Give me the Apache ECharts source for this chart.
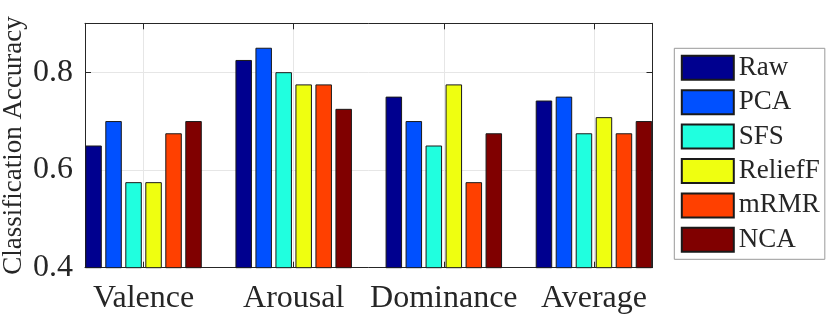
<!DOCTYPE html>
<html>
<head>
<meta charset="utf-8">
<script src="https://cdn.jsdelivr.net/npm/echarts@6/dist/echarts.min.js"></script>
<style>html,body{margin:0;padding:0;background:#fff}#c{width:830px;height:317px}</style>
</head>
<body>
<div id="c"></div>
<script>
const categories = ['Valence', 'Arousal', 'Dominance', 'Average'];
const methods = ['Raw', 'PCA', 'SFS', 'ReliefF', 'mRMR', 'NCA'];
const raw     = [0.650, 0.825, 0.750, 0.742];
const pca     = [0.700, 0.850, 0.700, 0.750];
const sfs     = [0.575, 0.800, 0.650, 0.675];
const relieff = [0.575, 0.775, 0.775, 0.708];
const mrmr    = [0.675, 0.775, 0.575, 0.675];
const nca     = [0.700, 0.725, 0.675, 0.700];
const yTicks = [0.4, 0.6, 0.8];

const seriesValues = [raw, pca, sfs, relieff, mrmr, nca];
const colors = ['#00008F', '#0050FF', '#20FFDF', '#EFFF10', '#FF4000', '#800000'];
const catPos = categories.map((c, i) => i + 1);

const font = "'Liberation Serif', serif";
const ink = '#262626';

const chart = echarts.init(document.getElementById('c'), null, {renderer: 'canvas'});
const series = methods.map((m, k) => ({
  name: m,
  type: 'bar',
  xAxisIndex: 0,
  yAxisIndex: 0,
  barWidth: 16.5,
  barGap: '21.2%',
  clip: true,
  itemStyle: {color: colors[k], borderColor: '#1a1a1a', borderWidth: 1},
  emphasis: {disabled: true},
  data: seriesValues[k].map((v, i) => [catPos[i], v])
}));

chart.setOption({
  animation: false,
  textStyle: {fontFamily: font},
  grid: {left: 85, top: 23.3, right: 177.5, bottom: 49.3, containLabel: false, outerBoundsMode: 'none'},
  legend: {
    data: methods,
    orient: 'vertical',
    left: 674.3, top: 48.3,
    padding: [6, 5, 6, 6.5],
    borderColor: '#999999',
    borderWidth: 1,
    itemWidth: 52, itemHeight: 24, itemGap: 7.4,
    icon: 'rect',
    textStyle: {fontFamily: font, fontSize: 27, color: ink, lineHeight: 24}
  },
  xAxis: [{
    type: 'value', min: 0.61, max: 4.39,
    axisLine: {show: true, onZero: false, lineStyle: {color: ink, width: 1}},
    axisTick: {show: true, inside: true, length: 6, customValues: catPos, lineStyle: {color: ink}},
    axisLabel: {customValues: catPos, formatter: v => categories[Math.round(v) - 1] || '',
      fontFamily: font, fontSize: 32, color: ink, margin: 15},
    splitLine: {show: true, lineStyle: {color: '#e6e6e6', width: 1}}
  }, {
    type: 'value', position: 'top', min: 0.61, max: 4.39,
    axisLine: {show: true, onZero: false, lineStyle: {color: ink, width: 1}},
    axisTick: {show: true, inside: true, length: 6, customValues: catPos, lineStyle: {color: ink}},
    axisLabel: {show: false},
    splitLine: {show: false}
  }],
  yAxis: [{
    type: 'value', min: 0.4, max: 0.9, interval: 0.2,
    name: 'Classification Accuracy', nameLocation: 'middle', nameGap: 58,
    nameMoveOverlap: false,
    nameTextStyle: {fontFamily: font, fontSize: 27, color: ink},
    axisLine: {show: true, onZero: false, lineStyle: {color: ink, width: 1}},
    axisTick: {show: true, inside: true, length: 6, lineStyle: {color: ink}},
    axisLabel: {formatter: v => yTicks.some(t => Math.abs(t - v) < 1e-6) ? v.toFixed(1) : '',
      fontFamily: font, fontSize: 32, color: ink, margin: 12},
    splitLine: {show: true, lineStyle: {color: '#e6e6e6', width: 1}}
  }, {
    type: 'value', position: 'right', min: 0.4, max: 0.9, interval: 0.2,
    axisLine: {show: true, onZero: false, lineStyle: {color: ink, width: 1}},
    axisTick: {show: true, inside: true, length: 6, lineStyle: {color: ink}},
    axisLabel: {show: false},
    splitLine: {show: false}
  }],
  series: series
});
</script>
</body>
</html>
